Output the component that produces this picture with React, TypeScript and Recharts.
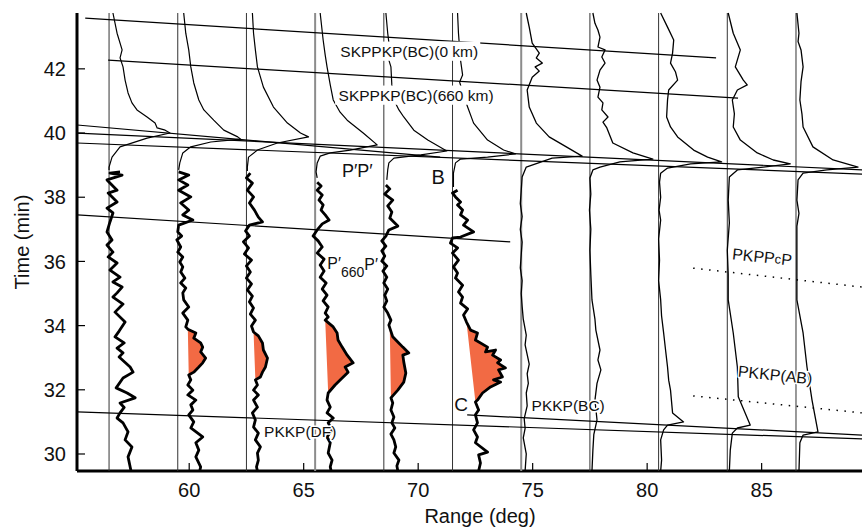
import React from 'react';
import { ComposedChart, Scatter, XAxis, YAxis } from 'recharts';

const FONT = '"Liberation Sans", Arial, Helvetica, sans-serif';

// distance of each record (deg)
const distances = [56.5, 59.5, 62.5, 65.5, 68.5, 71.5, 74.5, 77.5, 80.5, 83.5, 86.5];
const xTicks = [60, 65, 70, 75, 80, 85];
const yTicks = [30, 32, 34, 36, 38, 40, 42];
const timeSpan = [29.47, 43.74];

// [offset from record baseline (deg), time (min)]
// upper thin part (coda of P'P') of records 1-6
const upper1 = [[0.17,43.74],[0.35,43.11],[0.57,42.59],[0.48,42.34],[0.61,42.06],[0.70,41.65],[0.83,41.25],[1.00,40.94],[1.22,40.72],[1.66,40.50],[2.01,40.31],[2.10,40.16],[2.45,40.09],[2.66,40.00],[1.66,39.84],[0.48,39.57],[0.13,39.25],[0.00,38.94],[0.00,38.85]];
const upper2 = [[0.26,43.74],[0.35,43.11],[0.48,42.59],[0.57,42.06],[0.70,41.56],[0.92,41.03],[1.14,40.72],[1.57,40.40],[2.01,40.09],[2.62,39.88],[2.75,39.81],[1.44,39.72],[0.57,39.57],[0.22,39.38],[0.09,39.07],[0.04,38.85]];
const upper3 = [[0.26,43.74],[0.31,43.11],[0.39,42.59],[0.48,42.06],[0.74,41.43],[1.18,40.81],[1.79,40.31],[2.36,40.00],[2.71,39.88],[1.35,39.69],[0.48,39.47],[0.09,39.25],[0.04,38.94],[0.04,38.82]];
const upper4 = [[0.22,43.74],[0.35,42.90],[0.44,42.43],[0.52,42.06],[0.66,41.50],[0.79,41.03],[1.09,40.65],[1.40,40.40],[2.10,40.00],[2.71,39.63],[1.53,39.47],[0.66,39.38],[0.22,39.28],[0.09,39.07],[0.04,38.79],[0.09,38.60]];
const upper5 = [[0.09,43.74],[0.17,43.11],[0.26,42.59],[0.22,42.27],[0.31,42.06],[0.35,41.50],[0.44,41.03],[0.66,40.72],[0.87,40.50],[1.31,40.09],[1.92,39.78],[2.75,39.44],[1.62,39.32],[0.44,39.22],[0.22,39.07],[0.17,38.85],[0.13,38.54]];
const upper6 = [[0.22,43.74],[0.26,43.11],[0.35,42.27],[0.44,41.81],[0.31,41.59],[0.48,41.18],[0.66,40.81],[0.92,40.31],[1.53,39.78],[2.23,39.47],[2.75,39.35],[1.53,39.25],[0.35,39.19],[0.13,39.07],[0.04,38.75],[0.04,38.32]];

// lower thick part of records 1-6
const lower1 = [[0.48,38.79],[0.04,38.75],[0.57,38.69],[-0.09,38.54],[0.35,38.22],[-0.04,38.13],[0.35,37.85],[-0.09,37.66],[0.17,37.51],[0.04,37.23],[-0.09,36.92],[0.13,36.67],[-0.09,36.51],[0.17,36.29],[-0.04,36.14],[0.35,35.95],[0.04,35.73],[0.48,35.51],[0.17,35.36],[0.57,35.20],[0.35,35.02],[0.17,34.89],[0.61,34.67],[0.26,34.42],[0.70,34.11],[0.44,33.83],[0.26,33.65],[0.66,33.46],[0.35,33.30],[0.61,33.15],[0.44,33.02],[0.92,32.71],[1.05,32.55],[0.61,32.37],[0.31,32.06],[0.79,31.90],[1.14,31.75],[0.48,31.59],[0.66,31.45],[0.48,31.28],[0.35,31.12],[0.61,30.97],[0.83,30.69],[0.70,30.44],[1.00,30.22],[0.83,29.91],[0.92,29.60],[0.96,29.47]];
const lower2 = [[0.04,38.79],[0.48,38.69],[0.04,38.54],[0.44,38.38],[0.04,38.22],[0.57,38.01],[0.13,37.82],[0.48,37.60],[0.22,37.45],[0.66,37.29],[0.04,37.13],[0.00,36.92],[0.17,36.79],[-0.04,36.67],[0.13,36.45],[0.00,36.29],[0.22,36.14],[0.09,35.98],[0.22,35.83],[0.13,35.67],[0.31,35.48],[0.13,35.33],[0.35,35.17],[0.22,35.02],[0.26,34.80],[0.48,34.58],[0.22,34.39],[0.44,34.17],[0.35,33.96],[0.44,33.89],[0.79,33.77],[0.70,33.61],[1.00,33.46],[1.09,33.33],[1.00,33.18],[1.22,32.99],[1.09,32.84],[0.92,32.71],[0.70,32.55],[0.48,32.46],[0.57,32.31],[0.44,32.15],[0.66,31.99],[0.44,31.84],[0.79,31.68],[0.57,31.53],[0.66,31.37],[0.48,31.22],[0.70,31.00],[0.57,30.81],[1.09,30.53],[0.79,30.35],[0.92,30.12],[0.79,29.91],[1.00,29.60],[0.96,29.47]];
const lower3 = [[0.17,38.75],[0.00,38.60],[0.26,38.44],[0.04,38.22],[0.31,38.01],[0.13,37.82],[0.35,37.60],[0.52,37.38],[0.70,37.23],[0.13,37.13],[-0.04,36.95],[0.13,36.79],[-0.13,36.61],[0.09,36.42],[-0.09,36.23],[0.22,36.04],[0.00,35.86],[0.17,35.67],[0.00,35.48],[0.22,35.30],[0.04,35.11],[0.26,34.92],[0.13,34.74],[0.31,34.55],[0.17,34.36],[0.39,34.17],[0.22,33.99],[0.31,33.80],[0.52,33.68],[0.70,33.46],[0.74,33.24],[0.92,32.99],[0.83,32.71],[0.70,32.55],[0.61,32.40],[0.39,32.31],[0.48,32.15],[0.31,31.99],[0.52,31.84],[0.31,31.68],[0.48,31.46],[0.26,31.28],[0.39,31.06],[0.31,30.84],[0.52,30.65],[0.39,30.44],[0.61,30.22],[0.48,30.03],[0.52,29.81],[0.44,29.60],[0.48,29.47]];
const lower4 = [[0.09,38.47],[0.26,38.35],[0.09,38.22],[0.31,38.07],[0.17,37.91],[0.35,37.76],[0.26,37.60],[0.44,37.45],[0.61,37.29],[0.31,37.17],[0.09,36.98],[-0.09,36.79],[0.13,36.64],[0.31,36.45],[0.09,36.26],[0.39,36.07],[0.22,35.89],[0.39,35.70],[0.22,35.51],[0.48,35.33],[0.31,35.14],[0.52,34.95],[0.35,34.77],[0.57,34.58],[0.44,34.39],[0.57,34.27],[0.44,34.17],[0.79,33.96],[0.96,33.77],[1.00,33.55],[1.18,33.33],[1.40,33.08],[1.66,32.84],[1.31,32.71],[1.44,32.55],[1.18,32.37],[0.87,32.15],[0.57,31.90],[0.52,31.68],[0.66,31.46],[0.52,31.28],[0.79,31.12],[0.57,30.97],[0.74,30.75],[0.52,30.53],[0.66,30.35],[0.57,30.03],[0.74,29.81],[0.66,29.60],[0.70,29.47]];
const lower5 = [[0.09,38.38],[0.26,38.26],[0.04,38.10],[0.39,37.91],[0.17,37.73],[0.35,37.54],[0.26,37.35],[0.61,37.10],[0.22,36.98],[0.09,36.79],[-0.09,36.64],[0.09,36.48],[-0.09,36.33],[0.04,36.17],[-0.09,36.01],[0.13,35.86],[-0.04,35.70],[0.13,35.51],[0.00,35.33],[0.17,35.14],[0.04,34.95],[0.13,34.77],[0.00,34.58],[0.17,34.39],[0.31,34.17],[0.22,34.02],[0.26,33.93],[0.39,33.65],[0.61,33.49],[0.83,33.33],[1.09,33.15],[0.83,33.08],[0.87,32.87],[0.96,32.52],[0.87,32.24],[0.61,31.99],[0.31,31.75],[0.39,31.59],[0.31,31.37],[0.44,31.15],[0.35,30.97],[0.48,30.81],[0.31,30.62],[0.44,30.44],[0.52,30.22],[0.44,30.03],[0.66,29.81],[0.57,29.63],[0.61,29.47]];
const lower6 = [[0.22,38.22],[0.00,38.13],[0.13,38.01],[0.35,37.85],[0.22,37.76],[0.44,37.60],[0.35,37.45],[0.66,37.29],[0.48,37.13],[0.92,36.92],[0.35,36.76],[0.00,36.73],[-0.09,36.57],[0.22,36.42],[0.00,36.26],[0.26,36.04],[0.04,35.83],[0.22,35.64],[0.13,35.48],[0.44,35.26],[0.26,35.05],[0.44,34.89],[0.35,34.70],[0.66,34.52],[0.48,34.33],[0.61,34.11],[0.79,33.86],[1.09,33.77],[1.00,33.55],[1.53,33.33],[1.44,33.18],[1.88,33.24],[1.75,33.08],[2.10,32.93],[1.97,32.84],[2.31,32.68],[2.01,32.62],[2.18,32.40],[1.79,32.31],[2.10,32.24],[1.66,32.09],[1.31,31.90],[1.09,31.68],[1.00,31.62],[1.14,31.37],[1.00,31.22],[1.09,30.97],[0.92,30.75],[1.09,30.53],[1.00,30.35],[1.53,30.06],[1.14,29.97],[1.22,29.72],[1.14,29.47]];

// PKKP pulse window (min) of records 2-6, shaded
const pulseTop = [33.89, 33.80, 34.17, 33.93, 34.11];
const pulseBottom = [32.46, 32.31, 31.90, 31.75, 31.62];

// records 7-11, thin all through
const record7 = [[0.22,43.74],[0.35,43.30],[0.48,42.80],[0.79,42.49],[0.66,42.34],[0.92,42.18],[0.61,42.06],[0.79,41.93],[0.48,41.74],[0.26,41.34],[0.35,40.81],[0.66,40.31],[1.22,39.88],[1.97,39.57],[2.66,39.28],[1.35,39.22],[0.22,38.94],[0.04,38.63],[0.00,38.20],[-0.04,37.80],[0.04,37.40],[-0.04,37.00],[0.04,36.60],[0.00,36.20],[-0.04,35.80],[0.04,35.40],[0.00,35.00],[0.04,34.60],[0.09,34.20],[0.22,33.70],[0.17,33.40],[0.35,32.80],[0.26,32.50],[0.31,32.20],[0.22,31.90],[0.26,31.50],[0.13,31.10],[0.17,30.80],[0.09,30.50],[0.22,30.00],[0.17,29.47]];
const record8 = [[0.13,43.74],[0.22,43.42],[0.35,43.21],[0.44,42.99],[0.35,42.68],[0.66,42.59],[0.52,42.37],[0.66,42.18],[0.44,41.96],[0.31,41.65],[0.44,41.43],[0.35,41.12],[0.57,40.94],[0.52,40.72],[0.79,40.50],[0.57,40.34],[0.74,40.16],[1.00,39.69],[1.88,39.38],[2.75,39.19],[1.31,39.10],[0.44,38.94],[0.13,38.85],[0.00,38.60],[0.04,38.10],[-0.02,37.60],[0.04,37.00],[0.00,36.35],[0.04,35.60],[0.09,34.80],[0.22,34.20],[0.26,33.86],[0.44,33.24],[0.35,32.93],[0.48,32.62],[0.31,32.20],[0.22,31.68],[0.31,31.06],[0.17,30.60],[0.13,30.12],[0.09,29.47]];
const record9 = [[0.09,43.74],[0.39,43.30],[0.66,42.90],[0.61,42.49],[0.52,42.18],[0.74,41.90],[0.83,41.65],[0.44,41.34],[0.39,41.03],[0.35,40.50],[0.52,40.19],[0.83,39.88],[1.53,39.47],[2.14,39.25],[2.75,39.10],[1.40,39.04],[0.39,38.91],[0.09,38.75],[0.04,38.47],[0.09,38.00],[0.02,37.60],[0.09,37.29],[0.00,36.70],[0.04,36.04],[0.00,35.40],[0.09,34.80],[0.13,34.30],[0.22,33.77],[0.31,33.20],[0.39,32.71],[0.44,32.30],[0.52,31.99],[0.61,31.28],[1.09,31.00],[0.39,30.90],[0.22,30.75],[0.09,30.44],[0.13,29.81],[0.09,29.47]];
const record10 = [[0.04,43.74],[0.26,43.11],[0.57,42.59],[0.35,42.06],[0.70,41.65],[0.87,41.50],[0.44,41.34],[0.22,41.03],[0.31,40.60],[0.26,40.19],[0.57,39.78],[1.31,39.38],[2.01,39.16],[2.75,39.04],[1.57,38.94],[0.44,38.85],[0.09,38.63],[0.04,37.91],[0.09,37.20],[0.00,36.35],[0.04,35.60],[0.04,34.80],[0.26,33.77],[0.44,32.71],[0.48,31.78],[1.00,30.90],[0.44,30.81],[0.22,30.65],[0.13,30.12],[0.09,29.47]];
const record11 = [[0.04,43.74],[0.13,43.11],[0.09,42.85],[0.22,42.59],[0.31,42.06],[0.22,41.60],[0.17,41.03],[0.26,40.60],[0.31,40.19],[0.74,39.57],[1.62,39.16],[2.71,38.94],[1.35,38.85],[0.31,38.75],[0.09,38.54],[0.04,37.91],[0.13,37.50],[0.04,37.10],[0.04,36.04],[0.04,34.80],[0.31,33.77],[0.48,32.71],[0.70,31.68],[0.96,30.69],[0.31,30.59],[0.17,30.35],[0.13,29.47]];

// travel-time curves [range (deg), time (min)]
const skppkp0 = [[55.46,43.58],[83.01,42.34]];
const skppkp660 = [[56.46,42.27],[83.97,41.09]];
const ppA = [[55.11,40.25],[70.96,39.25]];
const ppB = [[55.11,40.00],[89.39,38.85]];
const ppC = [[55.11,39.69],[89.39,38.72]];
const p660p = [[55.11,37.45],[74.02,36.61]];
const pkkpDF = [[55.11,31.31],[89.39,30.47]];
const pkkpBC = [[72.14,31.22],[89.39,30.59]];
const pkppcp = [[82.01,35.79],[89.39,35.20]];
const pkkpAB = [[82.01,31.81],[89.39,31.28]];

const phaseLabels = [
  { id: 'skp0', x: 69.61, y: 42.55, text: 'SKPPKP(BC)(0 km)' },
  { id: 'skp660', x: 69.91, y: 41.18, text: 'SKPPKP(BC)(660 km)' },
  { id: 'pp', x: 67.34, y: 38.82, text: 'P\u2032P\u2032' },
  { id: 'B', x: 70.87, y: 38.63, text: 'B' },
  { id: 'C', x: 71.88, y: 31.53, text: 'C' },
  { id: 'p660p', x: 66.03, y: 35.93, text: 'P\u2032' },
  { id: 'pkppcp', x: 85.02, y: 36.14, text: 'PKPP' },
  { id: 'pkkpab', x: 85.59, y: 32.46, text: 'PKKP(AB)' },
  { id: 'pkkpdf', x: 64.85, y: 30.69, text: 'PKKP(DF)' },
  { id: 'pkkpbc', x: 76.55, y: 31.50, text: 'PKKP(BC)' },
];

const labelSize: Record<string, number> = {
  skp0: 15.5, skp660: 15.5, pp: 18, B: 20, C: 19, p660p: 16,
  pkppcp: 16, pkkpab: 16, pkkpdf: 15.5, pkkpbc: 15.5,
};
// labels that sit on a white box hiding the records behind them
const boxWidth: Record<string, number> = { skp0: 142, skp660: 162 };

const toPoints = (dist: number, arr: number[][]) => arr.map(([dx, t]) => ({ x: dist + dx, y: t }));
const linePoints = (arr: number[][]) => arr.map(([x, y]) => ({ x, y }));

const noDot = () => <g />;

const drawLabel = (p: any) => {
  const d = p.payload ?? p;
  const fs = labelSize[d.id];
  const common = {
    fontFamily: FONT, fill: '#111', fontSize: fs,
    stroke: '#fff', strokeWidth: 3, paintOrder: 'stroke' as const, strokeLinejoin: 'round' as const,
  };
  if (d.id === 'p660p') {
    return (
      <text x={p.cx} y={p.cy} dominantBaseline="central" {...common}>
        P{'\u2032'}
        <tspan dy={8} fontSize={14}>660</tspan>
        <tspan dy={-8}>P{'\u2032'}</tspan>
      </text>
    );
  }
  if (d.id === 'pkppcp') {
    return (
      <text x={p.cx} y={p.cy} textAnchor="middle" dominantBaseline="central" transform={`rotate(6 ${p.cx} ${p.cy})`} {...common}>
        PKPP<tspan fontSize={13}>c</tspan>P
      </text>
    );
  }
  const rot = d.id === 'pkkpab' ? `rotate(6 ${p.cx} ${p.cy})` : undefined;
  const bw = boxWidth[d.id];
  return (
    <g transform={rot}>
      {bw ? <rect x={p.cx - bw / 2} y={p.cy - fs * 0.62} width={bw} height={fs * 1.24} fill="#fff" /> : null}
      <text x={p.cx} y={p.cy} textAnchor="middle" dominantBaseline="central" {...common}>
        {d.text}
      </text>
    </g>
  );
};

const renderXLabel = (props: any) => {
  const vb = props.viewBox || {};
  const cx = (vb.x ?? 77) + (vb.width ?? 806) / 2;
  const y = (vb.y ?? 471) + 45;
  return (
    <text x={cx} y={y} textAnchor="middle" dominantBaseline="central" fontSize={20} fontFamily={FONT} fill="#111">
      Range (deg)
    </text>
  );
};

const renderYLabel = (props: any) => {
  const vb = props.viewBox || {};
  const x = (vb.x ?? 0) + 22;
  const y = (vb.y ?? 13) + (vb.height ?? 458) / 2;
  return (
    <text x={x} y={y} textAnchor="middle" dominantBaseline="central" fontSize={20} fontFamily={FONT} fill="#111" transform={`rotate(-90 ${x} ${y})`}>
      Time (min)
    </text>
  );
};

export default function App() {
  const uppers = [upper1, upper2, upper3, upper4, upper5, upper6];
  const lowers = [lower1, lower2, lower3, lower4, lower5, lower6];
  const thin = [record7, record8, record9, record10, record11];
  const curves = [skppkp0, skppkp660, ppA, ppB, ppC, p660p, pkkpDF, pkkpBC];
  const dotted = [pkppcp, pkkpAB];

  const fills = lowers.slice(1).map((arr, i) =>
    toPoints(distances[i + 1], arr.filter(([, t]) => t <= pulseTop[i] && t >= pulseBottom[i]))
  );

  const axisLine = { stroke: '#000', strokeWidth: 3 };
  const tickLine = { stroke: '#000', strokeWidth: 1.2 };
  const tick = { fontSize: 20, fill: '#111', fontFamily: FONT };

  return (
    <div style={{ position: 'fixed', left: 0, top: 0, width: 862, height: 528, overflow: 'hidden', background: '#fff' }}>
      <ComposedChart width={893} height={528} margin={{ top: 13, right: 10, bottom: 0, left: 0 }} style={{ fontFamily: FONT }}>
        <XAxis
          type="number"
          dataKey="x"
          domain={[55.1, 90.3]}
          ticks={xTicks}
          interval={0}
          tickSize={-8}
          tickMargin={20}
          height={57}
          axisLine={axisLine}
          tickLine={tickLine}
          tick={tick}
          label={renderXLabel}
        />
        <XAxis
          xAxisId="top"
          orientation="top"
          type="number"
          dataKey="x"
          domain={[55.1, 90.3]}
          ticks={xTicks}
          interval={0}
          tickSize={-8}
          height={0}
          axisLine={axisLine}
          tickLine={tickLine}
          tick={false}
        />
        <YAxis
          type="number"
          dataKey="y"
          domain={timeSpan}
          ticks={yTicks}
          interval={0}
          tickSize={-8}
          tickMargin={19}
          width={77}
          axisLine={axisLine}
          tickLine={tickLine}
          tick={tick}
          label={renderYLabel}
        />

        {/* record baselines */}
        {distances.map((d) => (
          <Scatter
            key={`base-${d}`}
            data={timeSpan.map((t) => ({ x: d, y: t }))}
            line={{
              stroke: d === 65.5 || d === 74.5 ? '#8c8c8c' : '#333',
              strokeWidth: d === 65.5 || d === 74.5 ? 2 : 1,
            }}
            shape={noDot}
            isAnimationActive={false}
          />
        ))}

        {curves.map((c, i) => (
          <Scatter key={`curve-${i}`} data={linePoints(c)} line={{ stroke: '#000', strokeWidth: 1.2 }} shape={noDot} isAnimationActive={false} />
        ))}
        {dotted.map((c, i) => (
          <Scatter key={`dot-${i}`} data={linePoints(c)} line={{ stroke: '#000', strokeWidth: 1.5, strokeDasharray: '1.5 6.5' }} shape={noDot} isAnimationActive={false} />
        ))}

        {fills.map((f, i) => (
          <Scatter key={`fill-${i}`} data={f} line={{ fill: '#f26a44', stroke: 'none' }} shape={noDot} isAnimationActive={false} />
        ))}

        {uppers.map((u, i) => (
          <Scatter key={`up-${i}`} data={toPoints(distances[i], u)} line={{ stroke: '#000', strokeWidth: 1.2, strokeLinejoin: 'round' }} shape={noDot} isAnimationActive={false} />
        ))}
        {lowers.map((l, i) => (
          <Scatter key={`low-${i}`} data={toPoints(distances[i], l)} line={{ stroke: '#000', strokeWidth: 2.8, strokeLinejoin: 'round' }} shape={noDot} isAnimationActive={false} />
        ))}
        {thin.map((r, i) => (
          <Scatter key={`thin-${i}`} data={toPoints(distances[i + 6], r)} line={{ stroke: '#000', strokeWidth: 1.3, strokeLinejoin: 'round' }} shape={noDot} isAnimationActive={false} />
        ))}

        <Scatter data={phaseLabels} shape={drawLabel} isAnimationActive={false} />
      </ComposedChart>
    </div>
  );
}
